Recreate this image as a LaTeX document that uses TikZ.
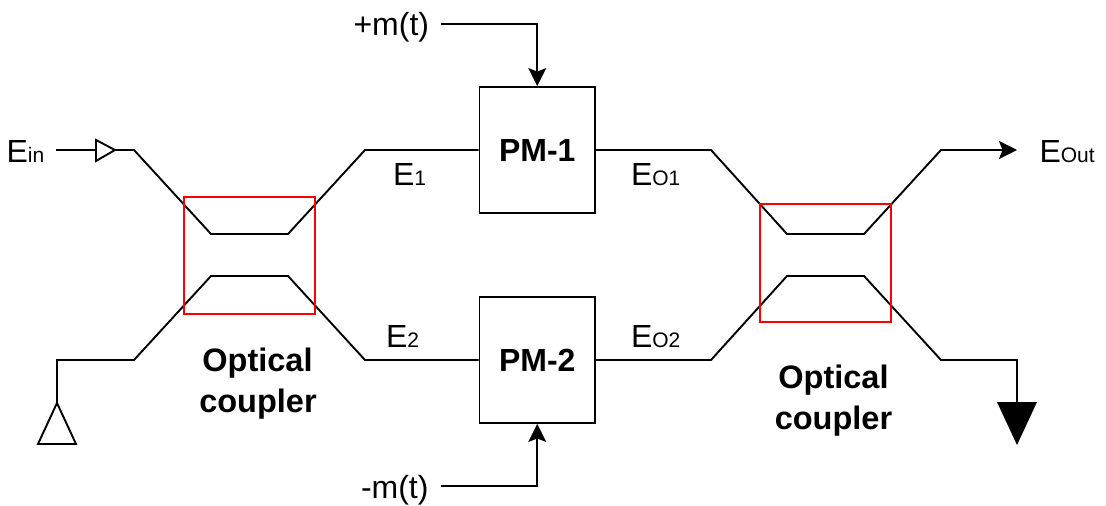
\documentclass[tikz,border=0pt]{standalone}
\usepackage{fontspec}
\setmainfont{Liberation Sans}
\usetikzlibrary{arrows.meta}
\newcommand{\lbl}[2]{{\fontsize{32}{36}\selectfont #1}{\fontsize{21}{24}\selectfont #2}}
\tikzset{
  wire/.style={draw=black,line width=1.9pt,line join=miter},
  couplerbox/.style={draw=red,line width=1.9pt,inner sep=0pt},
  pmbox/.style={draw=black,line width=1.9pt,minimum width=115.5pt,minimum height=126pt,inner sep=0pt,font=\fontsize{32}{36}\selectfont\bfseries},
  txt/.style={anchor=base west,inner sep=0pt,outer sep=0pt},
  captiontxt/.style={anchor=base,inner sep=0pt,outer sep=0pt,font=\fontsize{32.5}{36}\selectfont\bfseries},
  headtip/.style={-{Stealth[length=18pt,width=18pt,inset=3.5pt]}}
}
\begin{document}
\begin{tikzpicture}[x=1pt,y=-1pt]
\useasboundingbox (0,0) rectangle (1106,506);
% modulators
\node[pmbox] (pma) at (537.25,150) {PM-1};
\node[pmbox] (pmb) at (537.25,360) {PM-2};
% couplers
\draw[wire] (56,150) coordinate (ein) -- (96,150);
\coordinate (tria) at (96,140);
\coordinate (trib) at (96,161);
\coordinate (tric) at (115,150);
\draw[wire,fill=white] (tria) -- (tric) -- (trib) -- cycle;
\coordinate (a1) at (134,150);
\coordinate (a2) at (211,234);
\coordinate (a3) at (288,234);
\coordinate (a4) at (365,150);
\draw[wire] (tric) -- (a1) -- (a2) -- (a3) -- (a4) -- (pma.west);
\coordinate (b0) at (57,403);
\coordinate (b1) at (57,360);
\coordinate (b2) at (134,360);
\coordinate (b3) at (211,276);
\coordinate (b4) at (288,276);
\coordinate (b5) at (365,360);
\draw[wire] (b0) -- (b1) -- (b2) -- (b3) -- (b4) -- (b5) -- (pmb.west);
\coordinate (tb1) at (38,444);
\coordinate (tb2) at (76,444);
\draw[wire] (b0) -- (tb1) -- (tb2) -- cycle;
\coordinate (c1) at (711,150);
\coordinate (c2) at (787,234);
\coordinate (c3) at (864,234);
\coordinate (c4) at (941,150);
\coordinate (c5) at (1017,150);
\draw[wire,headtip] (pma.east) -- (c1) -- (c2) -- (c3) -- (c4) -- (c5);
\coordinate (d1) at (711,360);
\coordinate (d2) at (787,276);
\coordinate (d3) at (864,276);
\coordinate (d4) at (941,360);
\coordinate (d5) at (1017,360);
\coordinate (d6) at (1017,402);
\draw[wire] (pmb.east) -- (d1) -- (d2) -- (d3) -- (d4) -- (d5) -- (d6);
\coordinate (te1) at (997,402);
\coordinate (te2) at (1037,402);
\coordinate (te3) at (1017,445);
\fill[black] (te1) -- (te2) -- (te3) -- cycle;
\node[couplerbox,minimum width=131pt,minimum height=117pt] (cl) at (249.5,255.5) {};
\node[couplerbox,minimum width=131pt,minimum height=118pt] (cr) at (825.5,263) {};
% drive signals
\coordinate (mp) at (441,24);
\coordinate (mm) at (441,486);
\draw[wire,headtip] (mp) -| (pma.north);
\draw[wire,headtip] (mm) -| (pmb.south);
% labels
\node[txt] (lein) at (6.5,162) {\lbl{E}{in}};
\node[txt] (leout) at (1039.5,162) {\lbl{E}{Out}};
\node[txt] (le1) at (393,185) {\lbl{E}{1}};
\node[txt] (le2) at (386,347) {\lbl{E}{2}};
\node[txt] (leo1) at (631,185) {\lbl{E}{O1}};
\node[txt] (leo2) at (631,347) {\lbl{E}{O2}};
\node[txt] (lmp) at (353.5,35) {\lbl{+m(t)}{}};
\node[txt] (lmm) at (361,498) {\lbl{-m(t)}{}};
\node[captiontxt] (oa) at (257.5,371) {Optical};
\node[captiontxt] (ob) at (258,412) {coupler};
\node[captiontxt] (oc) at (833.5,388) {Optical};
\node[captiontxt] (od) at (833.5,429) {coupler};
\end{tikzpicture}
\end{document}
